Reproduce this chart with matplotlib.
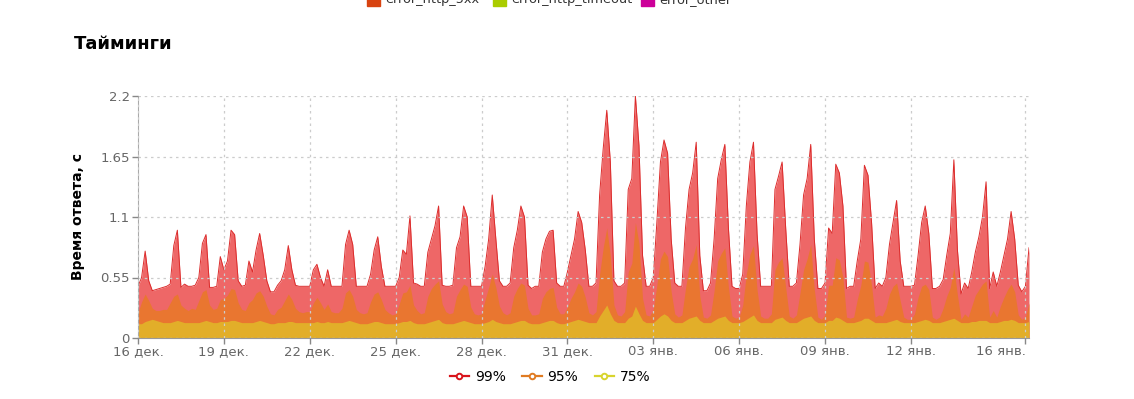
import matplotlib
matplotlib.use("Agg")
import matplotlib.pyplot as plt
import matplotlib.transforms as mtransforms
from matplotlib.lines import Line2D
from matplotlib.patches import Rectangle
import pandas as pd

# one value every 3 hours, starting 16 Dec 00:00 (8 values per day)
start = "2023-12-16"
step = "3h"

p99 = [
    0.47, 0.55, 0.79, 0.52, 0.43, 0.44, 0.45, 0.46,  # 16 дек
    0.47, 0.49, 0.84, 0.98, 0.46, 0.49, 0.47, 0.47,
    0.48, 0.55, 0.86, 0.94, 0.46, 0.46, 0.47, 0.74,
    0.62, 0.70, 0.98, 0.94, 0.52, 0.47, 0.48, 0.70,
    0.60, 0.80, 0.95, 0.75, 0.52, 0.42, 0.42, 0.48,  # 20 дек
    0.52, 0.62, 0.84, 0.62, 0.48, 0.47, 0.47, 0.47,
    0.47, 0.62, 0.67, 0.55, 0.47, 0.62, 0.47, 0.47,
    0.47, 0.47, 0.85, 0.98, 0.85, 0.47, 0.47, 0.47,
    0.47, 0.58, 0.80, 0.92, 0.65, 0.47, 0.47, 0.47,
    0.47, 0.55, 0.80, 0.76, 1.11, 0.50, 0.49, 0.47,  # 25 дек
    0.47, 0.78, 0.90, 1.02, 1.20, 0.48, 0.47, 0.47,
    0.48, 0.82, 0.92, 1.20, 1.10, 0.47, 0.47, 0.47,
    0.47, 0.65, 0.90, 1.30, 0.90, 0.52, 0.47, 0.47,
    0.50, 0.82, 0.98, 1.20, 1.10, 0.48, 0.45, 0.47,
    0.47, 0.78, 0.90, 0.97, 0.98, 0.50, 0.47, 0.47,  # 30 дек
    0.60, 0.75, 0.90, 1.15, 1.05, 0.80, 0.47, 0.47,
    0.50, 1.30, 1.72, 2.07, 1.60, 0.52, 0.47, 0.47,
    0.50, 1.35, 1.45, 2.20, 1.75, 0.75, 0.47, 0.47,
    0.55, 1.05, 1.60, 1.80, 1.68, 0.90, 0.50, 0.47,  # 03 янв
    0.47, 1.00, 1.35, 1.50, 1.78, 0.75, 0.43, 0.43,
    0.50, 0.90, 1.45, 1.62, 1.76, 1.00, 0.47, 0.45,
    0.45, 0.58, 1.20, 1.60, 1.78, 0.95, 0.47, 0.47,
    0.47, 0.47, 1.35, 1.47, 1.60, 1.00, 0.47, 0.47,
    0.50, 0.85, 1.30, 1.45, 1.76, 0.90, 0.45, 0.45,  # 08 янв
    0.50, 1.00, 0.95, 1.58, 1.50, 1.20, 0.45, 0.47,
    0.47, 0.70, 0.90, 1.57, 1.48, 1.05, 0.45, 0.50,
    0.47, 0.55, 0.85, 1.05, 1.25, 0.70, 0.47, 0.47,
    0.47, 0.48, 0.75, 1.05, 1.20, 0.95, 0.45, 0.45,
    0.47, 0.53, 0.75, 0.95, 1.62, 0.80, 0.40, 0.50,  # 13 янв
    0.45, 0.60, 0.78, 0.92, 1.10, 1.42, 0.45, 0.60,
    0.47, 0.60, 0.75, 0.90, 1.15, 0.90, 0.48, 0.42,
    0.47, 0.82,
]

p95 = [
    0.23, 0.33, 0.40, 0.34, 0.27, 0.25, 0.25, 0.26,
    0.26, 0.32, 0.38, 0.40, 0.30, 0.27, 0.25, 0.27,
    0.26, 0.34, 0.42, 0.44, 0.30, 0.26, 0.27, 0.35,
    0.36, 0.39, 0.45, 0.44, 0.32, 0.26, 0.25, 0.32,
    0.35, 0.41, 0.43, 0.38, 0.29, 0.22, 0.21, 0.26,
    0.28, 0.34, 0.40, 0.35, 0.27, 0.24, 0.23, 0.24,
    0.24, 0.32, 0.37, 0.32, 0.26, 0.31, 0.24, 0.23,
    0.23, 0.27, 0.41, 0.44, 0.38, 0.26, 0.23, 0.22,
    0.23, 0.33, 0.40, 0.42, 0.35, 0.26, 0.23, 0.21,
    0.22, 0.31, 0.41, 0.42, 0.48, 0.30, 0.25, 0.22,
    0.23, 0.38, 0.45, 0.49, 0.52, 0.31, 0.24, 0.22,
    0.23, 0.38, 0.44, 0.49, 0.47, 0.28, 0.22, 0.21,
    0.22, 0.35, 0.46, 0.58, 0.46, 0.29, 0.23, 0.21,
    0.23, 0.38, 0.45, 0.50, 0.48, 0.27, 0.21, 0.21,
    0.22, 0.36, 0.42, 0.45, 0.46, 0.28, 0.22, 0.22,
    0.28, 0.36, 0.42, 0.50, 0.47, 0.37, 0.23, 0.21,
    0.24, 0.58, 0.82, 1.00, 0.75, 0.30, 0.21, 0.20,
    0.24, 0.60, 0.68, 1.05, 0.86, 0.36, 0.21, 0.20,
    0.26, 0.48, 0.72, 0.79, 0.74, 0.42, 0.22, 0.19,
    0.21, 0.45, 0.65, 0.72, 0.85, 0.38, 0.19, 0.18,
    0.21, 0.43, 0.70, 0.77, 0.82, 0.46, 0.20, 0.18,
    0.19, 0.30, 0.58, 0.76, 0.84, 0.44, 0.20, 0.18,
    0.18, 0.22, 0.62, 0.69, 0.73, 0.46, 0.20, 0.18,
    0.21, 0.41, 0.62, 0.72, 0.85, 0.44, 0.19, 0.17,
    0.21, 0.48, 0.48, 0.73, 0.71, 0.55, 0.19, 0.18,
    0.19, 0.35, 0.48, 0.70, 0.69, 0.48, 0.19, 0.21,
    0.20, 0.27, 0.40, 0.47, 0.50, 0.34, 0.19, 0.17,
    0.17, 0.22, 0.37, 0.47, 0.49, 0.44, 0.19, 0.17,
    0.19, 0.27, 0.38, 0.46, 0.64, 0.39, 0.17, 0.22,
    0.19, 0.29, 0.39, 0.44, 0.49, 0.52, 0.19, 0.25,
    0.19, 0.29, 0.37, 0.44, 0.49, 0.42, 0.21, 0.17,
    0.19, 0.32,
]

p75 = [
    0.13, 0.13, 0.15, 0.16, 0.17, 0.16, 0.15, 0.14,
    0.14, 0.14, 0.15, 0.16, 0.15, 0.14, 0.14, 0.14,
    0.14, 0.14, 0.15, 0.16, 0.15, 0.14, 0.14, 0.15,
    0.15, 0.15, 0.16, 0.16, 0.15, 0.14, 0.14, 0.14,
    0.14, 0.15, 0.16, 0.15, 0.14, 0.13, 0.13, 0.14,
    0.14, 0.14, 0.15, 0.15, 0.14, 0.14, 0.14, 0.14,
    0.14, 0.14, 0.15, 0.14, 0.14, 0.15, 0.14, 0.14,
    0.14, 0.14, 0.15, 0.16, 0.15, 0.14, 0.13, 0.13,
    0.13, 0.14, 0.15, 0.15, 0.14, 0.13, 0.13, 0.13,
    0.13, 0.14, 0.15, 0.15, 0.16, 0.14, 0.13, 0.13,
    0.13, 0.14, 0.15, 0.16, 0.17, 0.14, 0.13, 0.13,
    0.13, 0.14, 0.15, 0.16, 0.15, 0.14, 0.13, 0.13,
    0.13, 0.14, 0.15, 0.17, 0.15, 0.14, 0.13, 0.13,
    0.13, 0.14, 0.15, 0.16, 0.16, 0.14, 0.13, 0.13,
    0.13, 0.14, 0.15, 0.16, 0.16, 0.14, 0.13, 0.13,
    0.14, 0.15, 0.16, 0.17, 0.16, 0.15, 0.14, 0.14,
    0.14, 0.20, 0.25, 0.30, 0.22, 0.16, 0.14, 0.14,
    0.14, 0.18, 0.20, 0.29, 0.22, 0.16, 0.14, 0.14,
    0.14, 0.17, 0.20, 0.22, 0.20, 0.16, 0.14, 0.14,
    0.14, 0.16, 0.18, 0.19, 0.20, 0.16, 0.14, 0.14,
    0.14, 0.16, 0.18, 0.19, 0.20, 0.16, 0.14, 0.14,
    0.14, 0.15, 0.17, 0.19, 0.21, 0.16, 0.14, 0.14,
    0.14, 0.14, 0.17, 0.18, 0.19, 0.16, 0.14, 0.14,
    0.14, 0.16, 0.18, 0.19, 0.20, 0.16, 0.14, 0.14,
    0.14, 0.16, 0.16, 0.19, 0.18, 0.16, 0.14, 0.14,
    0.14, 0.15, 0.16, 0.18, 0.18, 0.16, 0.14, 0.14,
    0.14, 0.14, 0.15, 0.16, 0.17, 0.15, 0.14, 0.14,
    0.14, 0.14, 0.15, 0.16, 0.17, 0.16, 0.14, 0.14,
    0.14, 0.15, 0.16, 0.17, 0.18, 0.16, 0.14, 0.14,
    0.14, 0.15, 0.15, 0.16, 0.16, 0.16, 0.14, 0.14,
    0.14, 0.15, 0.16, 0.16, 0.17, 0.16, 0.14, 0.14,
    0.14, 0.15,
]

tick_dates = ["2023-12-16", "2023-12-19", "2023-12-22", "2023-12-25", "2023-12-28",
              "2023-12-31", "2024-01-03", "2024-01-06", "2024-01-09", "2024-01-12",
              "2024-01-16"]
tick_labels = ["16 дек.", "19 дек.", "22 дек.", "25 дек.", "28 дек.", "31 дек.",
               "03 янв.", "06 янв.", "09 янв.", "12 янв.", "16 янв."]
y_ticks = [0, 0.55, 1.1, 1.65, 2.2]
y_labels = ["0", "0.55", "1.1", "1.65", "2.2"]

series_names = ["99%", "95%", "75%"]
line_colors = ["#d9141c", "#e07b22", "#d8d42e"]
fill_colors = ["#ee6767", "#e97630", "#e2ae29"]

top_names = ["error_http_5xx", "error_http_timeout", "error_other"]
top_colors = ["#d84310", "#aacc00", "#cc0099"]

times = pd.date_range(start, periods=len(p99), freq=step)

fig = plt.figure(figsize=(11.34, 3.99), dpi=100)
ax = fig.add_axes([138 / 1134, 61 / 399, 891 / 1134, 242 / 399])

for vals, fc in zip([p99, p95, p75], fill_colors):
    ax.fill_between(times, 0, vals, color=fc, linewidth=0)
ax.plot(times, p99, color="#dc2c2c", linewidth=0.7)

ax.set_ylim(0, 2.2)
ax.set_xlim(times[0], times[-1])
ax.set_yticks(y_ticks)
ax.set_yticklabels(y_labels)
ax.set_xticks(pd.to_datetime(tick_dates))
ax.set_xticklabels(tick_labels)

# last label is pulled inside the plot
last = ax.get_xticklabels()[-1]
last.set_horizontalalignment("right")
last.set_transform(last.get_transform() + mtransforms.ScaledTranslation(14 / 100, 0, fig.dpi_scale_trans))

ax.tick_params(axis="both", colors="#888888", labelcolor="#666666", labelsize=9.5, length=4, width=1)
ax.tick_params(axis="y", pad=2)
ax.tick_params(axis="x", pad=1)
ax.grid(True, color="#cccccc", linestyle=(0, (2, 3)), linewidth=0.9)
ax.set_axisbelow(False)
for side in ["top", "right"]:
    ax.spines[side].set_visible(False)
ax.spines["left"].set_color("#aaaaaa")
ax.spines["bottom"].set_color("#999999")

ax.set_ylabel("Время ответа, с", fontsize=10, fontweight="bold", labelpad=11)
fig.text(74 / 1134, 1 - 44 / 399, "Тайминги", fontsize=13, fontweight="bold", va="center", ha="left")

# legend at the top (cut by the image border)
top_x = [367, 493, 641]
for x, name, c in zip(top_x, top_names, top_colors):
    fig.patches.append(Rectangle((x / 1134, 1 - 6 / 399), 13 / 1134, 14 / 399,
                                 transform=fig.transFigure, color=c, clip_on=False))
    fig.text((x + 18) / 1134, 1 - 3 / 399, name, fontsize=9.3, color="#333333", va="baseline")

handles = [Line2D([], [], color=c, linewidth=1.6, marker="o", markersize=4,
                  markerfacecolor="white", markeredgewidth=1.4) for c in line_colors]
fig.legend(handles, series_names, loc="center", bbox_to_anchor=(550 / 1134, 1 - 377 / 399),
           ncol=3, frameon=False, fontsize=10, handlelength=1.4, handletextpad=0.4,
           columnspacing=1.2)

fig.savefig("out.png", dpi=100)
